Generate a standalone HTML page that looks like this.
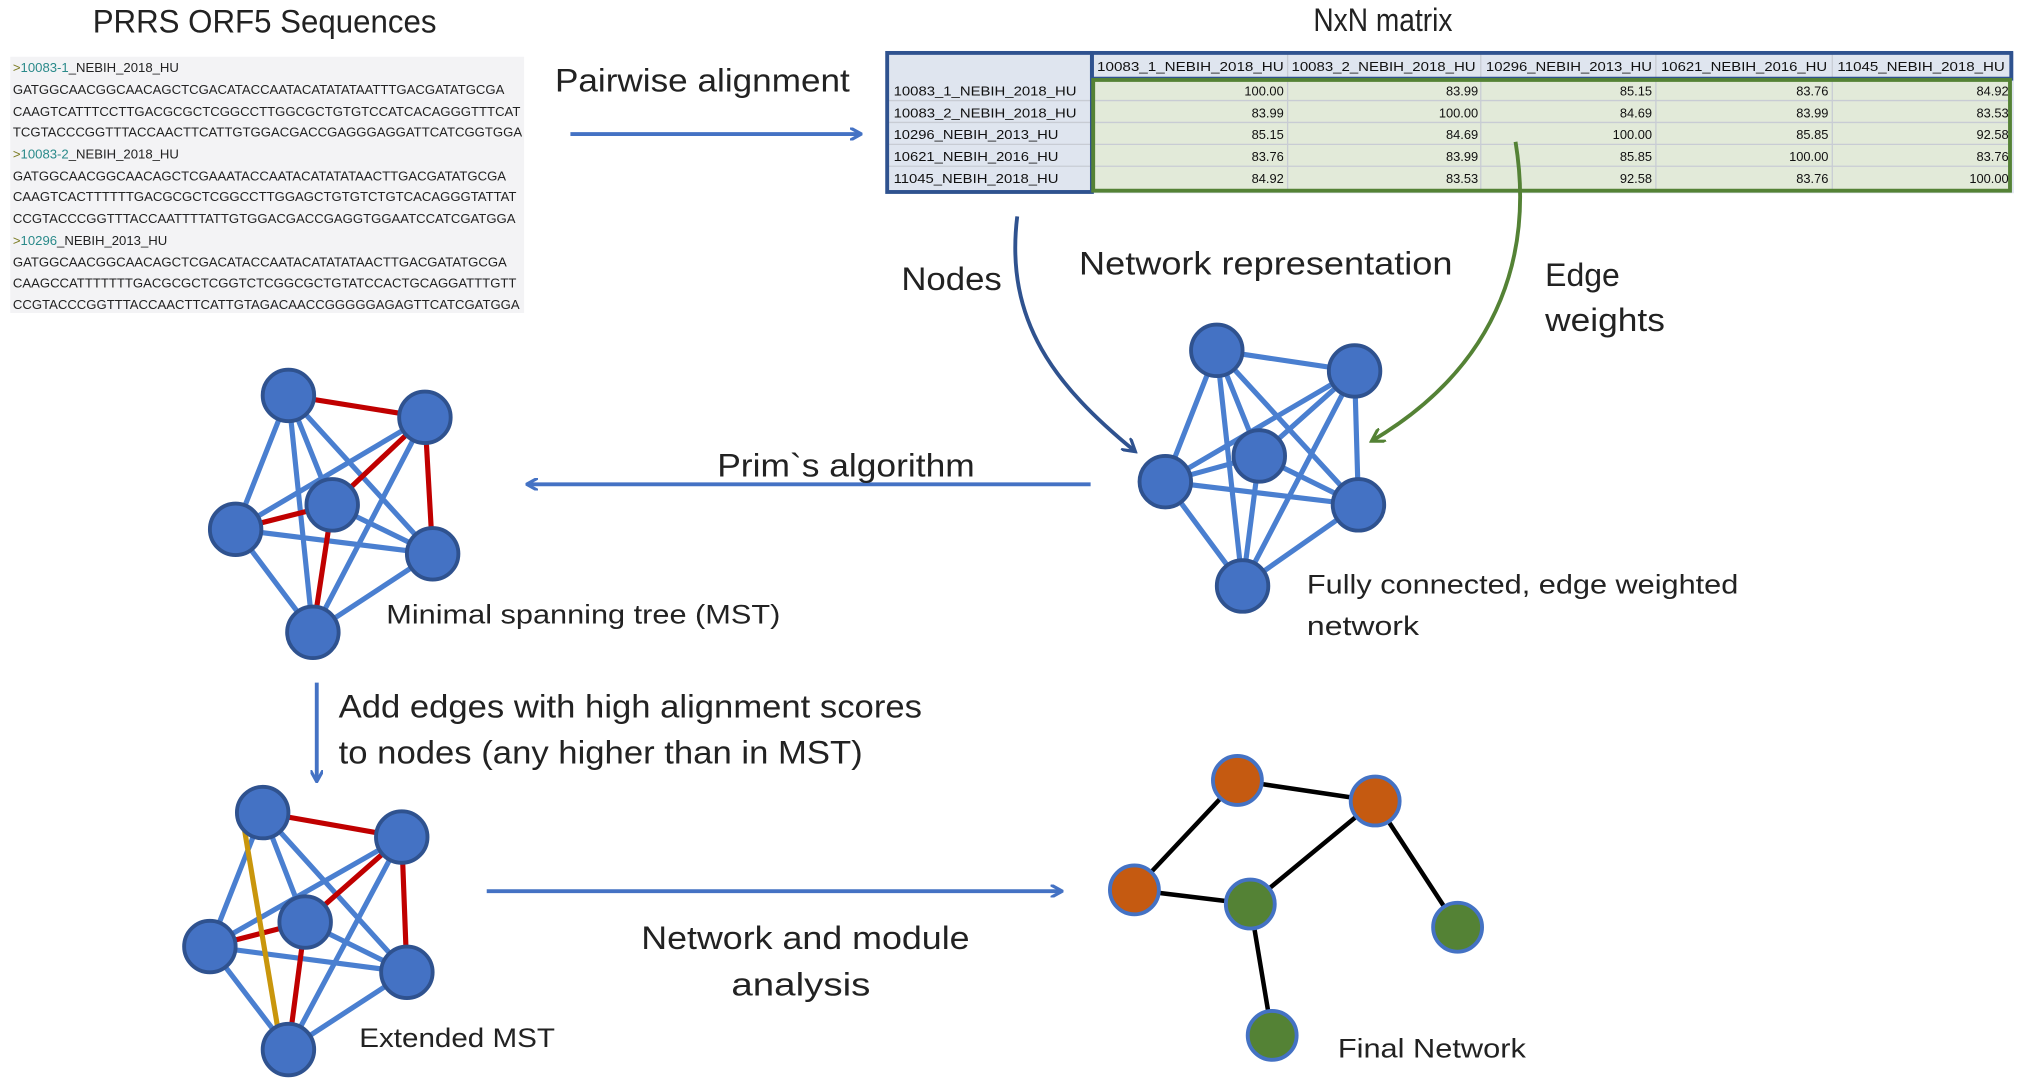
<!DOCTYPE html>
<html><head><meta charset="utf-8"><style>
html,body{margin:0;padding:0;background:#fff;}
svg{display:block;}
text{font-family:"Liberation Sans",sans-serif;}
.m{font-family:"Liberation Mono",monospace;font-size:10.2px;fill:#222;}
.t{font-size:10px;fill:#111;}
.l{font-size:25px;fill:#222;}
.s{font-size:21px;fill:#222;}
</style></head><body>
<svg width="2019" height="1087" viewBox="0 0 1568 844" xmlns="http://www.w3.org/2000/svg">
<defs>
<marker id="ab" markerWidth="10" markerHeight="10" refX="8" refY="5" orient="auto" markerUnits="userSpaceOnUse"><path d="M0,0 L9,5 L0,10" fill="none" stroke="#4472c4" stroke-width="2.5"/></marker>
<marker id="ad" markerWidth="12" markerHeight="12" refX="9" refY="6" orient="auto" markerUnits="userSpaceOnUse"><path d="M0,0 L10,6 L0,12" fill="none" stroke="#2f528f" stroke-width="2.5"/></marker>
<marker id="ag" markerWidth="12" markerHeight="12" refX="9" refY="6" orient="auto" markerUnits="userSpaceOnUse"><path d="M0,0 L10,6 L0,12" fill="none" stroke="#548235" stroke-width="2.5"/></marker>
</defs>

<text x="72" y="25" class="l" textLength="267" lengthAdjust="spacingAndGlyphs">PRRS ORF5 Sequences</text>
<text x="1020" y="24" class="l" textLength="108" lengthAdjust="spacingAndGlyphs">NxN matrix</text>

<!-- sequences -->
<rect x="8" y="44" width="399" height="199" fill="#f3f3f5"/>
<g class="m">
<text x="10" y="56"><tspan fill="#7a7a20">&gt;</tspan><tspan fill="#2a8a8a">10083-1</tspan>_NEBIH_2018_HU</text>
<text x="10" y="73">GATGGCAACGGCAACAGCTCGACATACCAATACATATATAATTTGACGATATGCGA</text>
<text x="10" y="90">CAAGTCATTTCCTTGACGCGCTCGGCCTTGGCGCTGTGTCCATCACAGGGTTTCAT</text>
<text x="10" y="106">TCGTACCCGGTTTACCAACTTCATTGTGGACGACCGAGGGAGGATTCATCGGTGGA</text>
<text x="10" y="123"><tspan fill="#7a7a20">&gt;</tspan><tspan fill="#2a8a8a">10083-2</tspan>_NEBIH_2018_HU</text>
<text x="10" y="140">GATGGCAACGGCAACAGCTCGAAATACCAATACATATATAACTTGACGATATGCGA</text>
<text x="10" y="156">CAAGTCACTTTTTTGACGCGCTCGGCCTTGGAGCTGTGTCTGTCACAGGGTATTAT</text>
<text x="10" y="173">CCGTACCCGGTTTACCAATTTTATTGTGGACGACCGAGGTGGAATCCATCGATGGA</text>
<text x="10" y="190"><tspan fill="#7a7a20">&gt;</tspan><tspan fill="#2a8a8a">10296</tspan>_NEBIH_2013_HU</text>
<text x="10" y="207">GATGGCAACGGCAACAGCTCGACATACCAATACATATATAACTTGACGATATGCGA</text>
<text x="10" y="223">CAAGCCATTTTTTTGACGCGCTCGGTCTCGGCGCTGTATCCACTGCAGGATTTGTT</text>
<text x="10" y="240">CCGTACCCGGTTTACCAACTTCATTGTAGACAACCGGGGGAGAGTTCATCGATGGA</text>
</g>

<!-- matrix -->
<rect x="688" y="40" width="876" height="110" fill="#dfe5ef"/>
<rect x="848" y="61" width="714" height="87" fill="#e2ead9"/>
<g stroke="#c8ccd4" stroke-width="1">
<line x1="1000" y1="42" x2="1000" y2="148"/><line x1="1150" y1="42" x2="1150" y2="148"/>
<line x1="1286" y1="42" x2="1286" y2="148"/><line x1="1423" y1="42" x2="1423" y2="148"/>
<line x1="690" y1="78" x2="1562" y2="78"/><line x1="690" y1="95" x2="1562" y2="95"/>
<line x1="690" y1="112" x2="1562" y2="112"/><line x1="690" y1="129" x2="1562" y2="129"/>
</g>
<rect x="689" y="41" width="159" height="108" fill="none" stroke="#2f528f" stroke-width="3"/>
<rect x="848" y="41" width="714" height="20" fill="none" stroke="#2f528f" stroke-width="3"/>
<rect x="849" y="62" width="712" height="86" fill="none" stroke="#548235" stroke-width="3"/>
<g class="t">
<text x="852" y="55" textLength="145" lengthAdjust="spacingAndGlyphs">10083_1_NEBIH_2018_HU</text><text x="1003" y="55" textLength="143" lengthAdjust="spacingAndGlyphs">10083_2_NEBIH_2018_HU</text>
<text x="1154" y="55" textLength="129" lengthAdjust="spacingAndGlyphs">10296_NEBIH_2013_HU</text><text x="1290" y="55" textLength="129" lengthAdjust="spacingAndGlyphs">10621_NEBIH_2016_HU</text>
<text x="1427" y="55" textLength="130" lengthAdjust="spacingAndGlyphs">11045_NEBIH_2018_HU</text>
<text x="694" y="74" textLength="142" lengthAdjust="spacingAndGlyphs">10083_1_NEBIH_2018_HU</text><text x="694" y="91" textLength="142" lengthAdjust="spacingAndGlyphs">10083_2_NEBIH_2018_HU</text>
<text x="694" y="108" textLength="128" lengthAdjust="spacingAndGlyphs">10296_NEBIH_2013_HU</text><text x="694" y="125" textLength="128" lengthAdjust="spacingAndGlyphs">10621_NEBIH_2016_HU</text>
<text x="694" y="142" textLength="128" lengthAdjust="spacingAndGlyphs">11045_NEBIH_2018_HU</text>
</g>
<g class="t" text-anchor="end">
<text x="997" y="74">100.00</text><text x="1148" y="74">83.99</text><text x="1283" y="74">85.15</text><text x="1420" y="74">83.76</text><text x="1560" y="74">84.92</text>
<text x="997" y="91">83.99</text><text x="1148" y="91">100.00</text><text x="1283" y="91">84.69</text><text x="1420" y="91">83.99</text><text x="1560" y="91">83.53</text>
<text x="997" y="108">85.15</text><text x="1148" y="108">84.69</text><text x="1283" y="108">100.00</text><text x="1420" y="108">85.85</text><text x="1560" y="108">92.58</text>
<text x="997" y="125">83.76</text><text x="1148" y="125">83.99</text><text x="1283" y="125">85.85</text><text x="1420" y="125">100.00</text><text x="1560" y="125">83.76</text>
<text x="997" y="142">84.92</text><text x="1148" y="142">83.53</text><text x="1283" y="142">92.58</text><text x="1420" y="142">83.76</text><text x="1560" y="142">100.00</text>
</g>

<!-- arrows -->
<g stroke="#4472c4" stroke-width="3" fill="none">
<line x1="443" y1="104" x2="668" y2="104" marker-end="url(#ab)"/>
<line x1="847" y1="376" x2="410" y2="376" marker-end="url(#ab)"/>
<line x1="246" y1="530" x2="246" y2="606" marker-end="url(#ab)"/>
<line x1="378" y1="692" x2="824" y2="692" marker-end="url(#ab)"/>
</g>
<path d="M790,168 C780,250 820,300 881,350" stroke="#2f528f" stroke-width="3" fill="none" marker-end="url(#ad)"/>
<path d="M1177,110 C1190,190 1170,280 1066,342" stroke="#548235" stroke-width="3" fill="none" marker-end="url(#ag)"/>

<g lengthAdjust="spacingAndGlyphs">
<text x="431" y="71" class="l" textLength="229" lengthAdjust="spacingAndGlyphs">Pairwise alignment</text>
<text x="700" y="225" class="l" textLength="78" lengthAdjust="spacingAndGlyphs">Nodes</text>
<text x="838" y="213" class="l" textLength="290" lengthAdjust="spacingAndGlyphs">Network representation</text>
<text x="1200" y="222" class="l" textLength="58" lengthAdjust="spacingAndGlyphs">Edge</text>
<text x="1200" y="257" class="l" textLength="93" lengthAdjust="spacingAndGlyphs">weights</text>
<text x="557" y="370" class="l" textLength="200" lengthAdjust="spacingAndGlyphs">Prim`s algorithm</text>
<text x="1015" y="461" class="s" textLength="335" lengthAdjust="spacingAndGlyphs">Fully connected, edge weighted</text>
<text x="1015" y="493" class="s" textLength="87" lengthAdjust="spacingAndGlyphs">network</text>
<text x="300" y="484" class="s" textLength="306" lengthAdjust="spacingAndGlyphs">Minimal spanning tree (MST)</text>
<text x="263" y="557" class="l" textLength="453" lengthAdjust="spacingAndGlyphs">Add edges with high alignment scores</text>
<text x="263" y="593" class="l" textLength="407" lengthAdjust="spacingAndGlyphs">to nodes (any higher than in MST)</text>
<text x="498" y="737" class="l" textLength="255" lengthAdjust="spacingAndGlyphs">Network and module</text>
<text x="568" y="773" class="l" textLength="108" lengthAdjust="spacingAndGlyphs">analysis</text>
<text x="279" y="813" class="s" textLength="152" lengthAdjust="spacingAndGlyphs">Extended MST</text>
<text x="1039" y="821" class="s" textLength="146" lengthAdjust="spacingAndGlyphs">Final Network</text>
</g>

<!-- networks -->
<g stroke="#4a7fd0" stroke-width="4">
<path d="M945,272L1052,288M945,272L978,354M945,272L905,374M945,272L1055,392M945,272L965,455M1052,288L978,354M1052,288L905,374M1052,288L1055,392M1052,288L965,455M978,354L905,374M978,354L1055,392M978,354L965,455M905,374L1055,392M905,374L965,455M1055,392L965,455"/>
<path d="M224,307L258,392M224,307L183,411M224,307L336,430M224,307L243,491M330,324L183,411M330,324L243,491M258,392L336,430M183,411L336,430M183,411L243,491M336,430L243,491"/>
<path d="M204,631L237,716M204,631L163,735M204,631L316,755M312,650L163,735M312,650L224,815M237,716L316,755M163,735L316,755M163,735L224,815M316,755L224,815"/>
</g>
<g stroke="#c00000" stroke-width="4">
<path d="M224,307L330,324M258,392L330,324M183,411L258,392M330,324L336,430M258,392L243,491"/>
<path d="M204,631L312,650M237,716L312,650M163,735L237,716M312,650L316,755M237,716L224,815"/>
</g>
<path d="M190,645L216,800" stroke="#c9960c" stroke-width="4"/>
<g stroke="#000" stroke-width="3.5">
<path d="M961,606L881,691M961,606L1068,622M1068,622L971,702M881,691L971,702M971,702L988,804M1068,622L1132,720"/>
</g>
<g fill="#4472c4" stroke="#2f528f" stroke-width="3">
<circle cx="945" cy="272" r="20"/><circle cx="1052" cy="288" r="20"/><circle cx="978" cy="354" r="20"/>
<circle cx="905" cy="374" r="20"/><circle cx="1055" cy="392" r="20"/><circle cx="965" cy="455" r="20"/>
<circle cx="224" cy="307" r="20"/><circle cx="330" cy="324" r="20"/><circle cx="258" cy="392" r="20"/>
<circle cx="183" cy="411" r="20"/><circle cx="336" cy="430" r="20"/><circle cx="243" cy="491" r="20"/>
<circle cx="204" cy="631" r="20"/><circle cx="312" cy="650" r="20"/><circle cx="237" cy="716" r="20"/>
<circle cx="163" cy="735" r="20"/><circle cx="316" cy="755" r="20"/><circle cx="224" cy="815" r="20"/>
</g>
<g stroke="#4472c4" stroke-width="3">
<circle cx="961" cy="606" r="19" fill="#c55a11"/><circle cx="1068" cy="622" r="19" fill="#c55a11"/><circle cx="881" cy="691" r="19" fill="#c55a11"/>
<circle cx="971" cy="702" r="19" fill="#548235"/><circle cx="1132" cy="720" r="19" fill="#548235"/><circle cx="988" cy="804" r="19" fill="#548235"/>
</g>
</svg>
</body></html>
